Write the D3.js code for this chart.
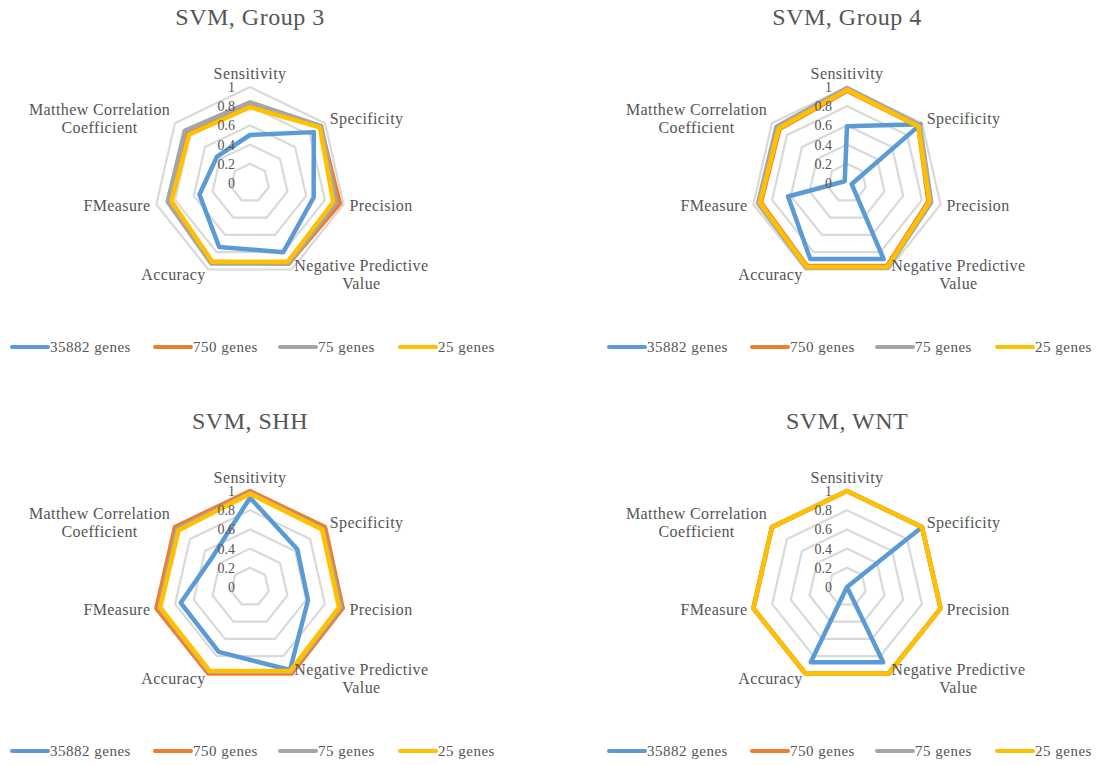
<!DOCTYPE html>
<html>
<head>
<meta charset="utf-8">
<script src="https://cdn.jsdelivr.net/npm/d3@7"></script>
<style>
  body { margin: 0; background: #ffffff; }
  svg text { font-family: "Liberation Serif", "Times New Roman", serif; fill: #555555; }
</style>
</head>
<body>
<div id="chart"></div>
<script>
// ---------- data ----------
const axes = ["Sensitivity", "Specificity", "Precision", "Negative Predictive Value",
              "Accuracy", "FMeasure", "Matthew Correlation Coefficient"];
const seriesNames = ["35882 genes", "750 genes", "75 genes", "25 genes"];
const seriesColors = ["#5b9bd5", "#ed7d31", "#a5a5a5", "#ffc000"];
const tickValues = [0, 0.2, 0.4, 0.6, 0.8, 1];
const titles = ["SVM, Group 3", "SVM, Group 4", "SVM, SHH", "SVM, WNT"];

// values per axis, order as in `axes`
const group3_35882 = [0.50, 0.85, 0.68, 0.80, 0.74, 0.54, 0.44];
const group3_750   = [0.80, 0.94, 0.96, 0.93, 0.91, 0.86, 0.84];
const group3_75    = [0.84, 0.95, 0.92, 0.93, 0.93, 0.88, 0.87];
const group3_25    = [0.79, 0.93, 0.89, 0.91, 0.91, 0.84, 0.81];

const group4_35882 = [0.59, 0.98, 0.05, 0.88, 0.88, 0.63, 0.03];
const group4_750   = [0.96, 0.95, 0.87, 0.96, 0.96, 0.92, 0.90];
const group4_75    = [0.99, 0.97, 0.90, 0.98, 0.98, 0.95, 0.94];
const group4_25    = [0.97, 0.95, 0.88, 0.97, 0.97, 0.93, 0.91];

const shh_35882 = [0.93, 0.63, 0.62, 0.96, 0.75, 0.74, 0.50];
const shh_750   = [1.00, 1.00, 0.99, 1.00, 1.00, 1.00, 1.00];
const shh_75    = [0.98, 0.97, 0.97, 0.98, 0.98, 0.97, 0.97];
const shh_25    = [0.97, 0.96, 0.95, 0.97, 0.97, 0.96, 0.95];

const wnt_35882 = [0.00, 0.98, 0.00, 0.87, 0.87, 0.00, 0.00];
const wnt_750   = [1, 1, 1, 1, 1, 1, 1];
const wnt_75    = [1, 1, 1, 1, 1, 1, 1];
const wnt_25    = [1, 1, 1, 1, 1, 1, 1];

const panels = [
  [group3_35882, group3_750, group3_75, group3_25],
  [group4_35882, group4_750, group4_75, group4_25],
  [shh_35882, shh_750, shh_75, shh_25],
  [wnt_35882, wnt_750, wnt_75, wnt_25]
];

// ---------- layout ----------
const width = 1097, height = 765;
const radius = 96;
const panelOrigin = [[250, 183], [847, 183], [250, 587], [847, 587]];
const gridColor = "#d9d9d9";

const svg = d3.select("#chart").append("svg")
  .attr("width", width)
  .attr("height", height);

const r = d3.scaleLinear().domain([0, 1]).range([0, radius]);
const angle = d3.scaleLinear().domain([0, axes.length]).range([0, 2 * Math.PI]);

// split long labels into two lines (at last space that keeps line 1 short)
function wrapLabel(s) {
  if (s.length <= 20) return [s];
  let cut = s.lastIndexOf(" ", 19);
  return [s.slice(0, cut), s.slice(cut + 1)];
}

function drawRadar(g, values, title) {
  const radarLine = d3.lineRadial()
    .angle((d, i) => angle(i))
    .radius(d => r(d))
    .curve(d3.curveLinearClosed);

  //=================================================
  // Title
  //=================================================
  g.append("text")
    .attr("x", 0)
    .attr("y", -158)
    .attr("text-anchor", "middle")
    .attr("font-size", 24)
    .attr("letter-spacing", 0.5)
    .text(title);

  //=================================================
  // Grid rings
  //=================================================
  g.append("g").selectAll("path")
    .data(tickValues.filter(t => t > 0))
    .join("path")
    .attr("d", t => radarLine(axes.map(() => t)))
    .attr("fill", "none")
    .attr("stroke", gridColor)
    .attr("stroke-width", 2.2);

  //=================================================
  // Series
  //=================================================
  g.append("g").selectAll("path")
    .data(values)
    .join("path")
    .attr("d", d => radarLine(d))
    .attr("fill", "none")
    .attr("stroke", (d, i) => seriesColors[i])
    .attr("stroke-width", 4.5)
    .attr("stroke-linejoin", "round");

  //=================================================
  // Tick labels
  //=================================================
  g.append("g").selectAll("text")
    .data(tickValues)
    .join("text")
    .attr("x", -15)
    .attr("y", t => -r(t))
    .attr("dy", "0.35em")
    .attr("text-anchor", "end")
    .attr("font-size", 14)
    .text(t => d3.format("~g")(t));

  //=================================================
  // Axis labels
  //=================================================
  const lineH = 18;
  axes.forEach((name, i) => {
    const a = angle(i);
    const px = Math.sin(a) * (radius + 6);
    const py = -Math.cos(a) * (radius + 6);
    const lines = wrapLabel(name);
    const label = g.append("text")
      .attr("font-size", 16)
      .attr("letter-spacing", 0.4);
    lines.forEach(ln => label.append("tspan").text(ln));
    let w = 0;
    label.selectAll("tspan").each(function () { w = Math.max(w, this.getComputedTextLength()); });
    let cx;
    if (Math.abs(Math.sin(a)) < 0.1) cx = px;
    else if (Math.sin(a) > 0) cx = px + w / 2;
    else cx = px - w / 2;
    let firstBase;
    if (i === 0) firstBase = py - 2;
    else firstBase = py + 5 - (lines.length - 1) * lineH / 2;
    label.attr("text-anchor", "middle");
    label.selectAll("tspan")
      .attr("x", cx)
      .attr("y", (d, k) => firstBase + k * lineH);
  });

  //=================================================
  // Legend
  //=================================================
  const legendX = [-240, -97, 28, 148];
  const legend = g.append("g").attr("transform", "translate(0,164)");
  seriesNames.forEach((name, i) => {
    const item = legend.append("g").attr("transform", "translate(" + legendX[i] + ",0)");
    item.append("line")
      .attr("x1", 2).attr("x2", 38)
      .attr("y1", 0).attr("y2", 0)
      .attr("stroke", seriesColors[i])
      .attr("stroke-width", 4)
      .attr("stroke-linecap", "round");
    item.append("text")
      .attr("x", 40)
      .attr("y", 0)
      .attr("dy", "0.35em")
      .attr("font-size", 15)
      .attr("letter-spacing", 0.5)
      .text(name);
  });
}

panels.forEach((vals, p) => {
  const g = svg.append("g")
    .attr("transform", "translate(" + panelOrigin[p][0] + "," + panelOrigin[p][1] + ")");
  drawRadar(g, vals, titles[p]);
});
</script>
</body>
</html>
